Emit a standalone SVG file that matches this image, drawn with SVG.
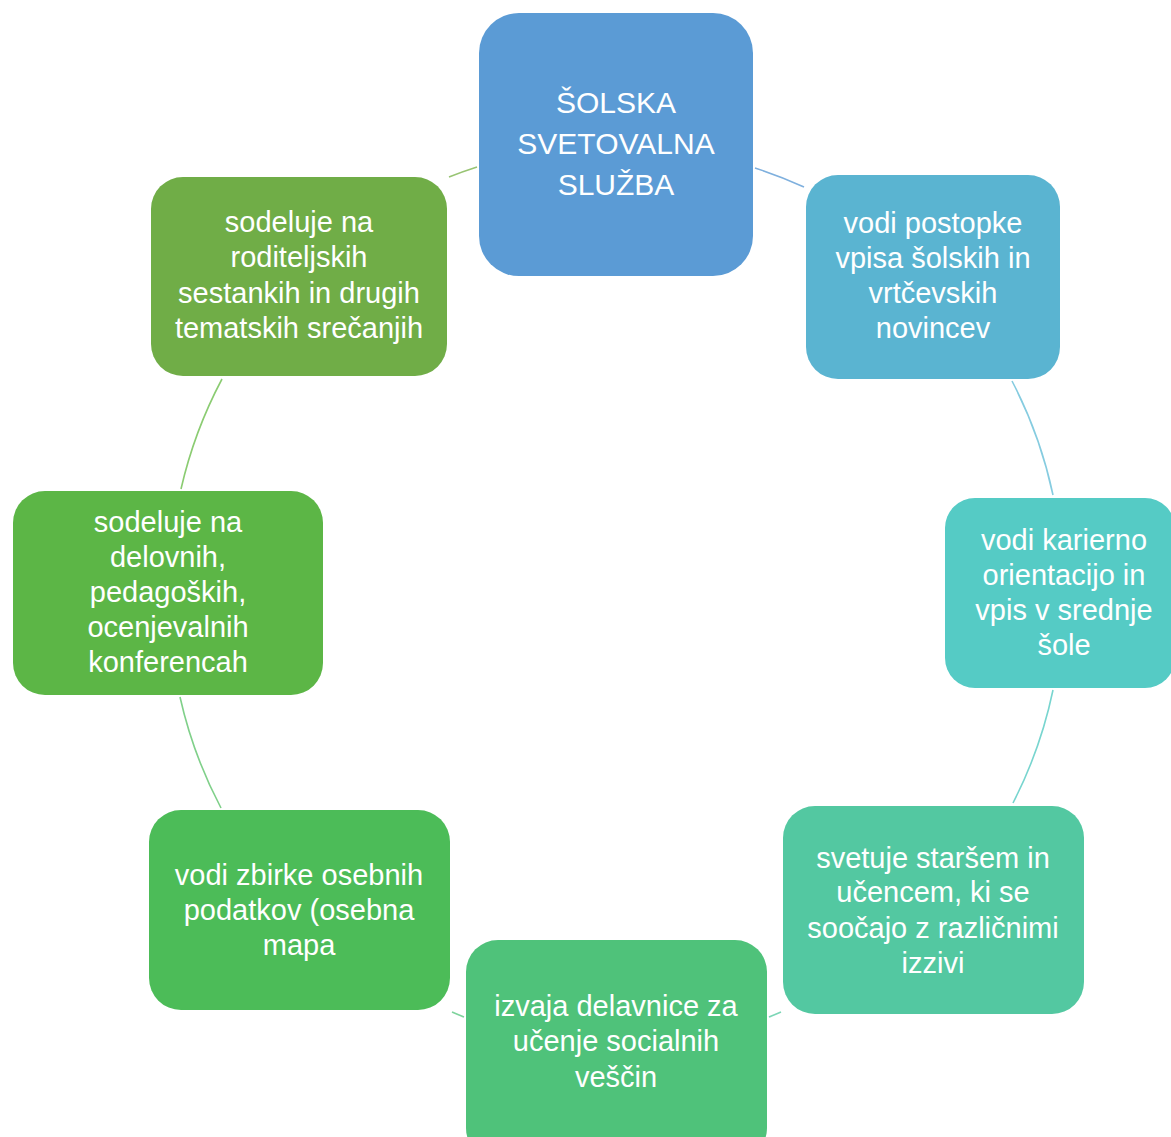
<svg xmlns="http://www.w3.org/2000/svg" width="1171" height="1137" viewBox="0 0 1171 1137">
<style>
.t{font-family:"Liberation Sans",Arial,sans-serif;font-size:29px;fill:#fff;text-anchor:middle}
.tt{font-family:"Liberation Sans",Arial,sans-serif;font-size:30px;fill:#fff;text-anchor:middle}
.c{fill:none;stroke-width:1.6}
</style>
<rect width="1171" height="1137" fill="#fff"/>
<g id="connectors">
<path class="c" stroke="#7FB0DE" d="M755,168 A448,448 0 0 1 804,187"/>
<path class="c" stroke="#86CCE0" d="M1012,381 A448,448 0 0 1 1053,495"/>
<path class="c" stroke="#78D5CF" d="M1053,690 A448,448 0 0 1 1013,803"/>
<path class="c" stroke="#7CD6B6" d="M781,1012 A448,448 0 0 1 769,1017"/>
<path class="c" stroke="#7ED39C" d="M464,1017 A448,448 0 0 1 452,1012"/>
<path class="c" stroke="#80D08A" d="M221,808 A448,448 0 0 1 180,697"/>
<path class="c" stroke="#8BCC72" d="M181,489 A448,448 0 0 1 222,379"/>
<path class="c" stroke="#98C473" d="M449,177 A448,448 0 0 1 477,167"/>
</g>
<g id="n0"><rect x="479" y="13" width="274" height="263" rx="40" fill="#5B9BD5"/>
<text class="tt"><tspan x="616" y="113">ŠOLSKA</tspan><tspan x="616" y="154">SVETOVALNA</tspan><tspan x="616" y="195">SLUŽBA</tspan></text></g>
<g id="n1"><rect x="806" y="175" width="254" height="204" rx="32" fill="#5AB4D1"/>
<text class="t"><tspan x="933" y="233">vodi postopke</tspan><tspan x="933" y="268">vpisa šolskih in</tspan><tspan x="933" y="303">vrtčevskih</tspan><tspan x="933" y="338">novincev</tspan></text></g>
<g id="n2"><rect x="945" y="498" width="230" height="190" rx="30" fill="#55CBC5"/>
<text class="t"><tspan x="1064" y="550">vodi karierno</tspan><tspan x="1064" y="585">orientacijo in</tspan><tspan x="1064" y="620">vpis v srednje</tspan><tspan x="1064" y="655">šole</tspan></text></g>
<g id="n3"><rect x="783" y="806" width="301" height="208" rx="32" fill="#53C8A1"/>
<text class="t"><tspan x="933" y="868">svetuje staršem in</tspan><tspan x="933" y="902">učencem, ki se</tspan><tspan x="933" y="938">soočajo z različnimi</tspan><tspan x="933" y="973">izzivi</tspan></text></g>
<g id="n4"><rect x="466" y="940" width="301" height="220" rx="32" fill="#4FC27A"/>
<text class="t"><tspan x="616" y="1016">izvaja delavnice za</tspan><tspan x="616" y="1051">učenje socialnih</tspan><tspan x="616" y="1087">veščin</tspan></text></g>
<g id="n5"><rect x="149" y="810" width="301" height="200" rx="32" fill="#4CBC58"/>
<text class="t"><tspan x="299" y="885">vodi zbirke osebnih</tspan><tspan x="299" y="920">podatkov (osebna</tspan><tspan x="299" y="955">mapa</tspan></text></g>
<g id="n6"><rect x="13" y="491" width="310" height="204" rx="32" fill="#5CB646"/>
<text class="t"><tspan x="168" y="532">sodeluje na</tspan><tspan x="168" y="567">delovnih,</tspan><tspan x="168" y="602">pedagoških,</tspan><tspan x="168" y="637">ocenjevalnih</tspan><tspan x="168" y="672">konferencah</tspan></text></g>
<g id="n7"><rect x="151" y="177" width="296" height="199" rx="32" fill="#70AD47"/>
<text class="t"><tspan x="299" y="232">sodeluje na</tspan><tspan x="299" y="267">roditeljskih</tspan><tspan x="299" y="303">sestankih in drugih</tspan><tspan x="299" y="338">tematskih srečanjih</tspan></text></g>
</svg>
